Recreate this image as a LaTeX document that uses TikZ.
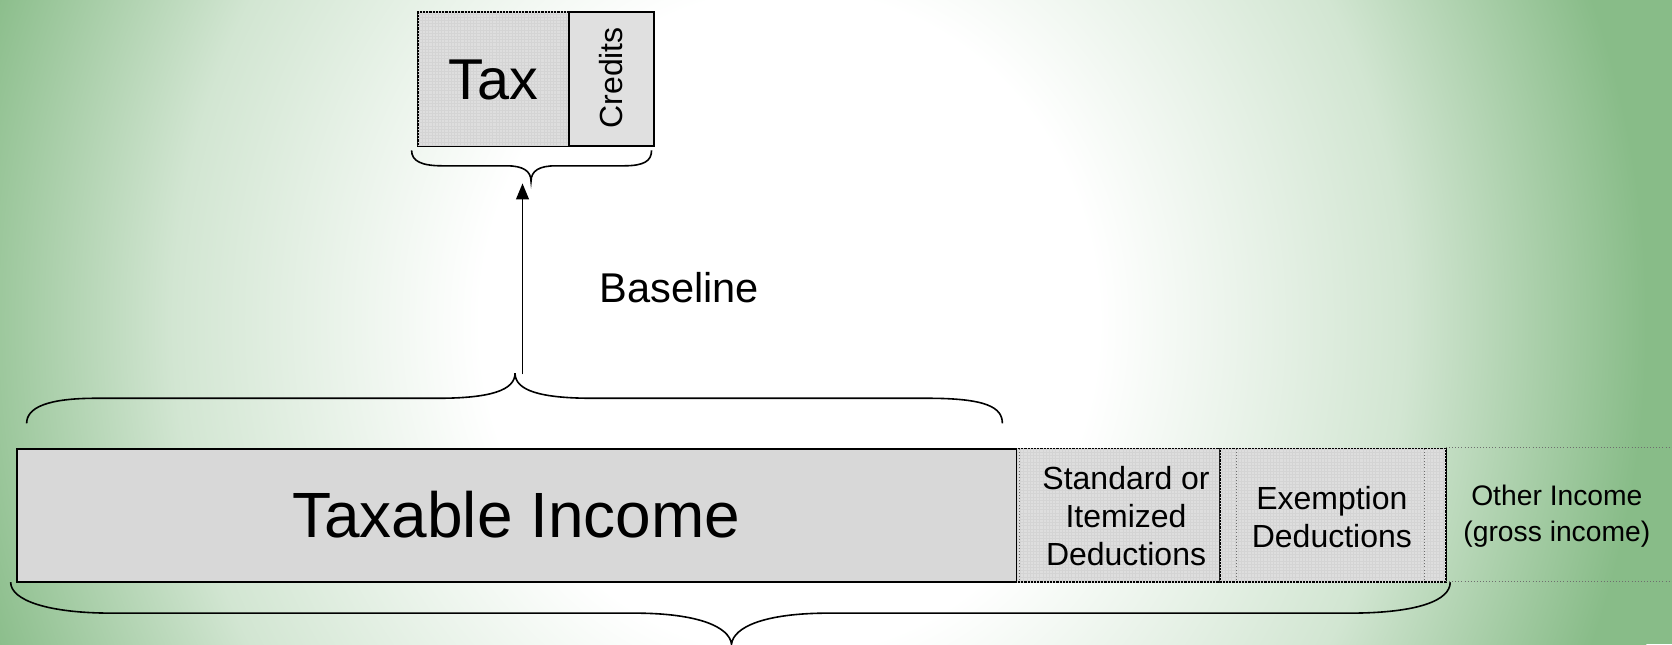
\documentclass[tikz,border=0pt]{standalone}
\usepackage{fontspec}
\setmainfont{Liberation Sans}
\usetikzlibrary{arrows.meta,patterns}
\definecolor{bggreen}{RGB}{136,188,136}
\definecolor{plainfill}{RGB}{216,216,216}
\definecolor{texfill}{RGB}{222,222,222}
\definecolor{gridcol}{RGB}{212,212,212}
\definecolor{credfill}{RGB}{224,224,224}
\definecolor{dotcol}{RGB}{110,110,110}
\pgfdeclareradialshading{bgshade}{\pgfpoint{0bp}{0bp}}{color(0bp)=(white); color(9bp)=(white); color(18bp)=(bggreen!38!white); color(25bp)=(bggreen); color(50bp)=(bggreen)}
\tikzset{
  boxstyle/.style={draw=black, line width=1.8pt, rectangle, inner sep=0pt, anchor=north west},
  plainbox/.style={boxstyle, fill=plainfill},
  texbox/.style={boxstyle, fill=texfill, postaction={pattern=grid, pattern color=gridcol}},
  credbox/.style={boxstyle, fill=credfill},
  bracestyle/.style={draw=black, line width=1.5pt},
  dotline/.style={draw=dotcol, line width=0.9pt, dotted},
  txt/.style={inner sep=0pt, align=center, text=black},
}
\begin{document}
\begin{tikzpicture}[x=1pt,y=-1pt]
\useasboundingbox (0,0) rectangle (1568,604);
% background
\begin{scope}
\clip (0,0) rectangle (1568,604);
\fill[bggreen] (0,0) rectangle (1568,604);
\shade[shading=bgshade] (-64,-560) rectangle (1544,1164);
\end{scope}
% tax boxes
\node[texbox, minimum width=142pt, minimum height=126pt] (tax) at (391,10) {};
\node[credbox, minimum width=79pt, minimum height=126pt] (cred) at (533,10) {};
\node[txt, font=\fontsize{54}{62}\selectfont] (taxlbl) at (463,75) {Tax};
\node[txt, rotate=90, font=\fontsize{30}{34}\selectfont] (credlbl) at (573,73) {Credits};
% tax brace
\draw[bracestyle] (386,141) .. controls (386,151) and (395,155.5) .. (415,155.5) -- (475,155.5) .. controls (490,155.5) and (498,160) .. (498,170) .. controls (498,160) and (506,155.5) .. (521,155.5) -- (585,155.5) .. controls (604,155.5) and (611,151) .. (611,141);
% main bar
\node[plainbox, minimum width=938pt, minimum height=125pt] (taxable) at (15,420) {};
\node[texbox, minimum width=190pt, minimum height=125pt] (std) at (953,420) {};
\node[texbox, minimum width=212pt, minimum height=125pt] (exm) at (1143,420) {};
\draw[dotline] (956,421) -- (956,544);
\draw[dotline] (1160,421) -- (1160,544);
\draw[dotline] (1336,421) -- (1336,544);
\draw[dotline] (1356,420) -- (1568,420);
\draw[dotline] (1356,545) -- (1568,545);
\node[txt, font=\fontsize{60}{69}\selectfont] (taxablelbl) at (484,483) {Taxable Income};
\node[txt, font=\fontsize{30}{35.5}\selectfont] (stdlbl) at (1056,484) {Standard or\\Itemized\\Deductions};
\node[txt, font=\fontsize{30}{35}\selectfont] (exmlbl) at (1249,485) {Exemption\\Deductions};
\node[txt, font=\fontsize{26.5}{34}\selectfont] (othlbl) at (1460,484) {Other Income\\(gross income)};
% baseline label
\node[txt, font=\fontsize{39}{45}\selectfont] (baselbl) at (637,270) {Baseline};
% upper big brace
\draw[bracestyle] (25,397) .. controls (25,382) and (45,373.5) .. (90,373.5) -- (410,373.5) .. controls (460,373.5) and (483,366) .. (483,350) .. controls (483,366) and (506,373.5) .. (556,373.5) -- (870,373.5) .. controls (925,373.5) and (940,382) .. (940,397);
% bottom brace
\draw[bracestyle] (10,546) .. controls (10,563) and (45,575) .. (105,575) -- (595,575) .. controls (655,575) and (684,588) .. (686,604) .. controls (688,588) and (717,575) .. (777,575) -- (1265,575) .. controls (1330,575) and (1360,563) .. (1360,546);
% arrow
\coordinate (afoot) at (490,351);
\coordinate (ahead) at (490,172);
\draw[line width=1.5pt, -{Triangle[length=15pt,width=12pt]}] (afoot) -- (ahead);
\end{tikzpicture}
\end{document}
